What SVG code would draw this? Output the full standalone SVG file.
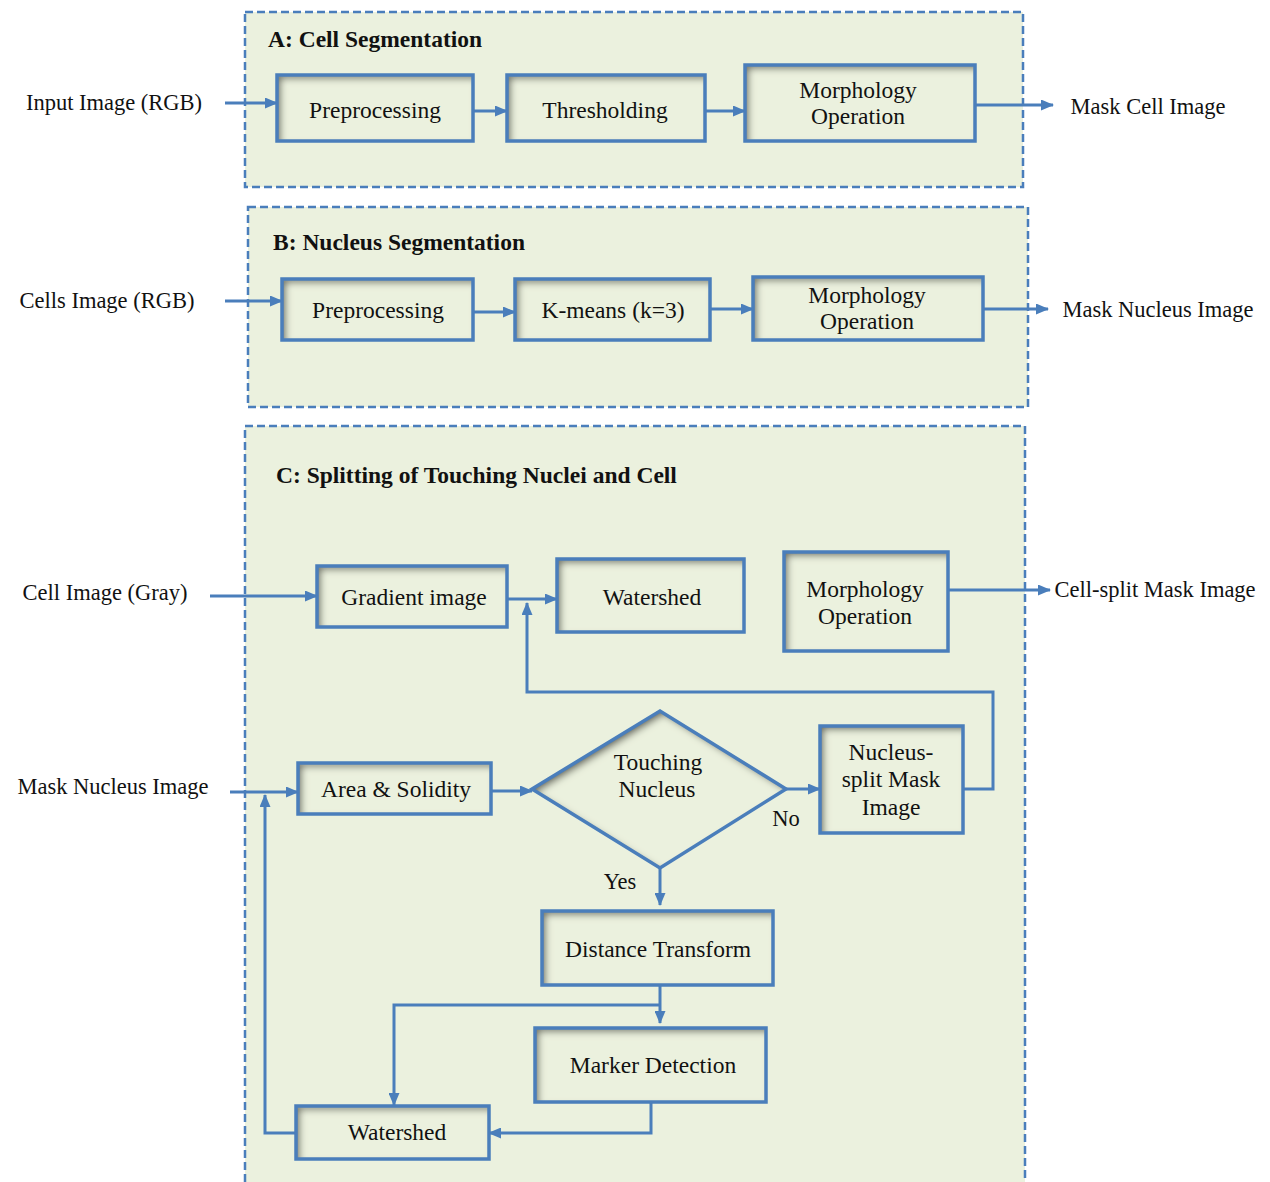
<svg xmlns="http://www.w3.org/2000/svg" width="1270" height="1182" viewBox="0 0 1270 1182">
<defs>
<style>
.panel{fill:#EBF1DE;stroke:#4A7EBB;stroke-width:2.5;stroke-dasharray:8 4}
.box{fill:#EBF1DE;filter:url(#inset)}
.edge{fill:none;stroke:#4A7EBB;stroke-width:3}
.frame{fill:none;stroke:#4A7EBB;stroke-width:3.5}
text{font-family:"Liberation Serif","Times New Roman",serif;font-size:23.5px;fill:#111}
.c{text-anchor:middle}
.t{font-weight:bold;font-size:23.5px}
.lbl{font-size:22.5px}
</style>
<filter id="inset" x="-10%" y="-10%" width="120%" height="120%">
<feFlood flood-color="#22220a" flood-opacity="0.85" result="f"/>
<feComposite in="f" in2="SourceAlpha" operator="out" result="o"/>
<feGaussianBlur in="o" stdDeviation="3.5" result="b"/>
<feOffset in="b" dx="4" dy="4" result="off"/>
<feComposite in="off" in2="SourceAlpha" operator="in" result="sh"/>
<feMerge><feMergeNode in="SourceGraphic"/><feMergeNode in="sh"/></feMerge>
</filter>
<marker id="arr" markerUnits="userSpaceOnUse" markerWidth="13" markerHeight="11" refX="12" refY="5.5" orient="auto">
<path d="M0,0 L13,5.5 L0,11 z" fill="#4A7EBB"/>
</marker>
</defs>
<rect width="1270" height="1182" fill="#fff"/>

<g id="panelA"><rect class="panel" x="245" y="12" width="778" height="175"/><text class="t" x="268" y="47">A: Cell Segmentation</text></g>
<g id="panelB"><rect class="panel" x="248" y="207" width="780" height="200"/><text class="t" x="273" y="250">B: Nucleus Segmentation</text></g>
<g id="panelC"><rect class="panel" x="245" y="426" width="780" height="780"/><text class="t" x="276" y="483">C: Splitting of Touching Nuclei and Cell</text></g>

<g id="connectors">
<path class="edge" marker-end="url(#arr)" d="M225,103 H277"/>
<path class="edge" marker-end="url(#arr)" d="M473,111 H507"/>
<path class="edge" marker-end="url(#arr)" d="M705,111 H745"/>
<path class="edge" marker-end="url(#arr)" d="M975,105 H1053"/>
<path class="edge" marker-end="url(#arr)" d="M225,301 H282"/>
<path class="edge" marker-end="url(#arr)" d="M473,312 H515"/>
<path class="edge" marker-end="url(#arr)" d="M710,309 H753"/>
<path class="edge" marker-end="url(#arr)" d="M983,309 H1048"/>
<path class="edge" marker-end="url(#arr)" d="M210,596 H317"/>
<path class="edge" marker-end="url(#arr)" d="M507,599 H557"/>
<path class="edge" marker-end="url(#arr)" d="M948,590 H1050"/>
<path class="edge" marker-end="url(#arr)" d="M963,789 H993 V692 H527 V603"/>
<path class="edge" marker-end="url(#arr)" d="M230,792 H298"/>
<path class="edge" marker-end="url(#arr)" d="M491,791 H532"/>
<path class="edge" marker-end="url(#arr)" d="M786,789 H820"/>
<path class="edge" marker-end="url(#arr)" d="M660,868 V905"/>
<path class="edge" marker-end="url(#arr)" d="M660,985 V1023"/>
<path class="edge" marker-end="url(#arr)" d="M660,1005 H394 V1105"/>
<path class="edge" marker-end="url(#arr)" d="M651,1102 V1133 H489"/>
<path class="edge" marker-end="url(#arr)" d="M296,1133 H265 V795"/>
</g>

<g id="labels">
<text class="lbl c" x="114" y="110">Input Image (RGB)</text>
<text class="lbl c" x="1148" y="114">Mask Cell Image</text>
<text class="lbl c" x="107" y="308">Cells Image (RGB)</text>
<text class="lbl c" x="1158" y="317">Mask Nucleus Image</text>
<text class="lbl c" x="105" y="600">Cell Image (Gray)</text>
<text class="lbl c" x="1155" y="597">Cell-split  Mask Image</text>
<text class="lbl c" x="113" y="794">Mask Nucleus Image</text>
<text class="lbl c" x="786" y="826">No</text>
<text class="lbl c" x="620" y="889">Yes</text>
</g>

<g id="a_pre"><rect class="box" x="277" y="75" width="196" height="66"/><rect class="frame" x="277" y="75" width="196" height="66"/><text class="c" x="375" y="118">Preprocessing</text></g>
<g id="a_thr"><rect class="box" x="507" y="75" width="198" height="66"/><rect class="frame" x="507" y="75" width="198" height="66"/><text class="c" x="605" y="118">Thresholding</text></g>
<g id="a_morph"><rect class="box" x="745" y="65" width="230" height="76"/><rect class="frame" x="745" y="65" width="230" height="76"/><text class="c" x="858" y="98">Morphology</text><text class="c" x="858" y="124">Operation</text></g>

<g id="b_pre"><rect class="box" x="282" y="279" width="191" height="61"/><rect class="frame" x="282" y="279" width="191" height="61"/><text class="c" x="378" y="318">Preprocessing</text></g>
<g id="b_km"><rect class="box" x="515" y="279" width="195" height="61"/><rect class="frame" x="515" y="279" width="195" height="61"/><text class="c" x="613" y="318">K-means (k=3)</text></g>
<g id="b_morph"><rect class="box" x="753" y="277" width="230" height="63"/><rect class="frame" x="753" y="277" width="230" height="63"/><text class="c" x="867" y="303">Morphology</text><text class="c" x="867" y="329">Operation</text></g>

<g id="c_grad"><rect class="box" x="317" y="566" width="190" height="61"/><rect class="frame" x="317" y="566" width="190" height="61"/><text class="c" x="414" y="605">Gradient image</text></g>
<g id="c_ws1"><rect class="box" x="557" y="559" width="187" height="73"/><rect class="frame" x="557" y="559" width="187" height="73"/><text class="c" x="652" y="605">Watershed</text></g>
<g id="c_morph"><rect class="box" x="784" y="552" width="164" height="99"/><rect class="frame" x="784" y="552" width="164" height="99"/><text class="c" x="865" y="597">Morphology</text><text class="c" x="865" y="624">Operation</text></g>
<g id="c_area"><rect class="box" x="298" y="763" width="193" height="51"/><rect class="frame" x="298" y="763" width="193" height="51"/><text class="c" x="396" y="797">Area &amp; Solidity</text></g>
<g id="c_touch"><polygon class="box" points="532,789 660,711 786,789 660,868"/><polygon class="frame" points="532,789 660,711 786,789 660,868"/><text class="c" x="658" y="770">Touching</text><text class="c" x="657" y="797">Nucleus</text></g>
<g id="c_nsplit"><rect class="box" x="820" y="726" width="143" height="107"/><rect class="frame" x="820" y="726" width="143" height="107"/><text class="c" x="891" y="760">Nucleus-</text><text class="c" x="891" y="787">split Mask</text><text class="c" x="891" y="815">Image</text></g>
<g id="c_dist"><rect class="box" x="542" y="911" width="231" height="74"/><rect class="frame" x="542" y="911" width="231" height="74"/><text class="c" x="658" y="957">Distance Transform</text></g>
<g id="c_marker"><rect class="box" x="535" y="1028" width="231" height="74"/><rect class="frame" x="535" y="1028" width="231" height="74"/><text class="c" x="653" y="1073">Marker Detection</text></g>
<g id="c_ws2"><rect class="box" x="296" y="1106" width="193" height="53"/><rect class="frame" x="296" y="1106" width="193" height="53"/><text class="c" x="397" y="1140">Watershed</text></g>
</svg>
